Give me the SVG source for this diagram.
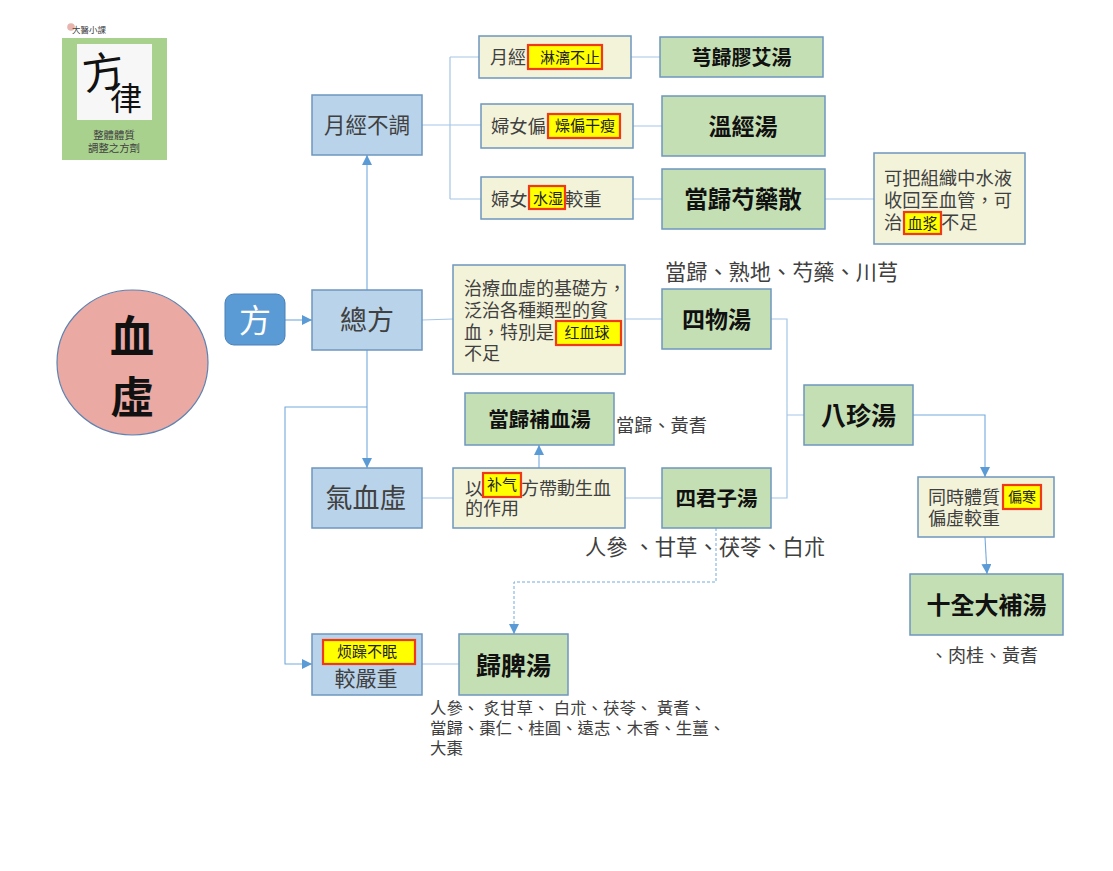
<svg xmlns="http://www.w3.org/2000/svg" width="1113" height="871" viewBox="0 0 1113 871">
<style>
text{font-family:"Liberation Sans","Noto Sans CJK TC","Noto Sans CJK SC",sans-serif;fill:#404040}
.blue{fill:#B9D3EA;stroke:#6E97BF;stroke-width:1.5}
.green{fill:#C5DFB4;stroke:#6E97BF;stroke-width:1.5}
.cream{fill:#F3F3DA;stroke:#6E97BF;stroke-width:1.5}
.hl{fill:#FFFF00;stroke:#F03A17;stroke-width:2.2}
.f{font-weight:700;fill:#111}
.h{fill:#222;font-size:15px}
.c{fill:none;stroke:#A5C6E6;stroke-width:1.2}
.a{fill:none;stroke:#74A9DC;stroke-width:1.1;marker-end:url(#arr)}
.d{fill:none;stroke:#74A9DC;stroke-width:1;stroke-dasharray:3 2;marker-end:url(#arr)}
</style>
<defs>
<marker id="arr" markerUnits="userSpaceOnUse" markerWidth="11" markerHeight="11" refX="10" refY="5" orient="auto">
<path d="M0 0L10 5L0 10Z" fill="#5B9BD5"/>
</marker>
</defs>
<g id="connectors">
<path class="c" d="M422 125H450M450 57V199M450 57H479M450 125H481M450 199H481"/>
<path class="c" d="M631 57H660M633 126H662M633 199H662M825 199H874"/>
<path class="c" d="M422 320L453 319M625 319H662M771 319H787V498H771M787 415H804"/>
<path class="c" d="M422 498H453M625 498H662M422 664H459"/>
<path class="a" d="M367 290V155"/>
<path class="a" d="M285 320H312"/>
<path class="a" d="M913 415H985V477"/>
<path class="a" d="M985 537L987 574"/>
<path class="a" d="M367 350V468"/>
<path class="a" d="M367 407H285V664H312"/>
<path class="a" d="M539 468V445"/>
<path class="d" d="M716 528V582H514V634"/>
</g>
<g id="logo">
<rect x="62" y="38" width="105" height="122" fill="#A9D18E"/>
<rect x="77" y="44" width="75" height="76" fill="#F7F7F7"/>
<circle cx="71" cy="27" r="3.800" fill="#E8B4AE"/>
<text x="72" y="33" font-size="8.500">大醫小課</text>
<text x="82" y="88" font-size="42" style="fill:#111" transform="rotate(-8 100 70)">方</text>
<text x="110" y="110" font-size="32" style="fill:#111">律</text>
<text x="114" y="139" font-size="10.400" text-anchor="middle">整體體質</text>
<text x="114" y="152" font-size="10.400" text-anchor="middle">調整之方劑</text>
</g>
<g id="xuexu">
<ellipse cx="132.500" cy="362.500" rx="75.500" ry="72.500" fill="#EBA9A3" stroke="#5E82B0" stroke-width="1.200"/>
<text x="132" y="353" font-size="44" text-anchor="middle" class="f">血</text>
<text x="132" y="414" font-size="44" text-anchor="middle" class="f">虛</text>
</g>
<g id="fang">
<rect x="225" y="294" width="60" height="51" rx="9" fill="#5B9BD5" stroke="#4A80B5"/>
<text x="255" y="332" font-size="32" text-anchor="middle" style="fill:#fff">方</text>
</g>
<g id="yuejing">
<rect class="blue" x="312" y="95" width="110" height="60"/>
<text x="367" y="133" font-size="21.500" text-anchor="middle">月經不調</text>
</g>
<g id="zongfang">
<rect class="blue" x="312" y="290" width="110" height="60"/>
<text x="367" y="330" font-size="27" text-anchor="middle">總方</text>
</g>
<g id="qixue">
<rect class="blue" x="312" y="468" width="110" height="60"/>
<text x="366" y="508" font-size="27" text-anchor="middle">氣血虛</text>
</g>
<g id="jiaoyan">
<rect class="blue" x="312" y="634" width="110" height="61"/>
<rect class="hl" x="323" y="640" width="92" height="24"/>
<text x="367" y="657" text-anchor="middle" class="h">烦躁不眠</text>
<text x="366" y="686" font-size="21" text-anchor="middle">較嚴重</text>
</g>
<g id="n1">
<rect class="cream" x="479" y="36" width="152" height="42"/>
<text x="490" y="64" font-size="18">月經</text>
<rect class="hl" x="528" y="45" width="74" height="24"/>
<text x="570" y="63" text-anchor="middle" class="h">淋漓不止</text>
</g>
<g id="n2">
<rect class="cream" x="481" y="104" width="152" height="44"/>
<text x="491" y="133" font-size="18.300">婦女偏</text>
<rect class="hl" x="548" y="114" width="72" height="24"/>
<text x="585" y="131" text-anchor="middle" class="h">燥偏干瘦</text>
</g>
<g id="n3">
<rect class="cream" x="481" y="177" width="152" height="42"/>
<text x="491" y="206" font-size="18.300">婦女</text>
<rect class="hl" x="529" y="186" width="36" height="23"/>
<text x="548" y="204" text-anchor="middle" class="h">水湿</text>
<text x="565" y="206" font-size="18.300">較重</text>
</g>
<g id="n4">
<rect class="green" x="660" y="37" width="163" height="40"/>
<text x="741.500" y="65" font-size="20" text-anchor="middle" class="f">芎歸膠艾湯</text>
</g>
<g id="n5">
<rect class="green" x="662" y="96" width="163" height="60"/>
<text x="743" y="135" font-size="23" text-anchor="middle" class="f">溫經湯</text>
</g>
<g id="n6">
<rect class="green" x="662" y="169" width="163" height="60"/>
<text x="743" y="208" font-size="23.500" text-anchor="middle" class="f">當歸芍藥散</text>
</g>
<g id="n7">
<rect class="cream" x="874" y="153" width="151" height="91"/>
<text x="884" y="185" font-size="18.300">可把組織中水液</text>
<text x="884" y="207" font-size="18.300">收回至血管，可</text>
<text x="884" y="229" font-size="18.300">治</text>
<rect class="hl" x="904" y="212" width="37" height="22"/>
<text x="922.500" y="229" text-anchor="middle" class="h">血浆</text>
<text x="941" y="229" font-size="18.300">不足</text>
</g>
<g id="n8">
<rect class="cream" x="453" y="265" width="172" height="109"/>
<text x="464" y="295" font-size="18">治療血虛的基礎方，</text>
<text x="464" y="317" font-size="18">泛治各種類型的貧</text>
<text x="464" y="339" font-size="18">血，特別是</text>
<rect class="hl" x="556" y="321" width="65" height="24"/>
<text x="587" y="338" text-anchor="middle" class="h">红血球</text>
<text x="464" y="360" font-size="18">不足</text>
</g>
<g id="n9">
<text x="665" y="280" font-size="21.200">當歸、熟地、芍藥、川芎</text>
<rect class="green" x="662" y="289" width="109" height="60"/>
<text x="716.500" y="328" font-size="23" text-anchor="middle" class="f">四物湯</text>
</g>
<g id="n10">
<rect class="green" x="804" y="385" width="109" height="60"/>
<text x="858.500" y="425" font-size="25" text-anchor="middle" class="f">八珍湯</text>
</g>
<g id="n11">
<rect class="green" x="465" y="393" width="149" height="52"/>
<text x="539.500" y="427" font-size="20.500" text-anchor="middle" class="f">當歸補血湯</text>
<text x="616" y="432" font-size="18.200">當歸、黃耆</text>
</g>
<g id="n12">
<rect class="cream" x="453" y="468" width="172" height="60"/>
<text x="465" y="495" font-size="18">以</text>
<rect class="hl" x="483" y="473" width="38" height="24"/>
<text x="502" y="490" text-anchor="middle" class="h">补气</text>
<text x="521" y="495" font-size="18">方帶動生血</text>
<text x="465" y="515" font-size="18">的作用</text>
</g>
<g id="n13">
<rect class="green" x="662" y="468" width="109" height="60"/>
<text x="716.500" y="506" font-size="20.500" text-anchor="middle" class="f">四君子湯</text>
<text x="585" y="555" font-size="21.300">人參 、甘草、茯苓、白朮</text>
</g>
<g id="n14">
<rect class="cream" x="918" y="477" width="136" height="60"/>
<text x="928" y="504" font-size="18">同時體質</text>
<rect class="hl" x="1003" y="485" width="38" height="24"/>
<text x="1022" y="502" text-anchor="middle" class="h" style="font-size:14px">偏寒</text>
<text x="928" y="525" font-size="18">偏虛較重</text>
</g>
<g id="n15">
<rect class="green" x="910" y="574" width="153" height="61"/>
<text x="986.500" y="614" font-size="24" text-anchor="middle" class="f">十全大補湯</text>
<text x="930" y="662" font-size="18">、肉桂、黃耆</text>
</g>
<g id="n16">
<rect class="green" x="459" y="634" width="109" height="61"/>
<text x="513.500" y="675" font-size="25" text-anchor="middle" class="f">歸脾湯</text>
<text x="430" y="714" font-size="16.400">人參、 炙甘草、 白朮、茯苓、 黃耆、</text>
<text x="430" y="734" font-size="16.400">當歸、棗仁、桂圓、遠志、木香、生薑、</text>
<text x="430" y="754" font-size="16.400">大棗</text>
</g>
</svg>
